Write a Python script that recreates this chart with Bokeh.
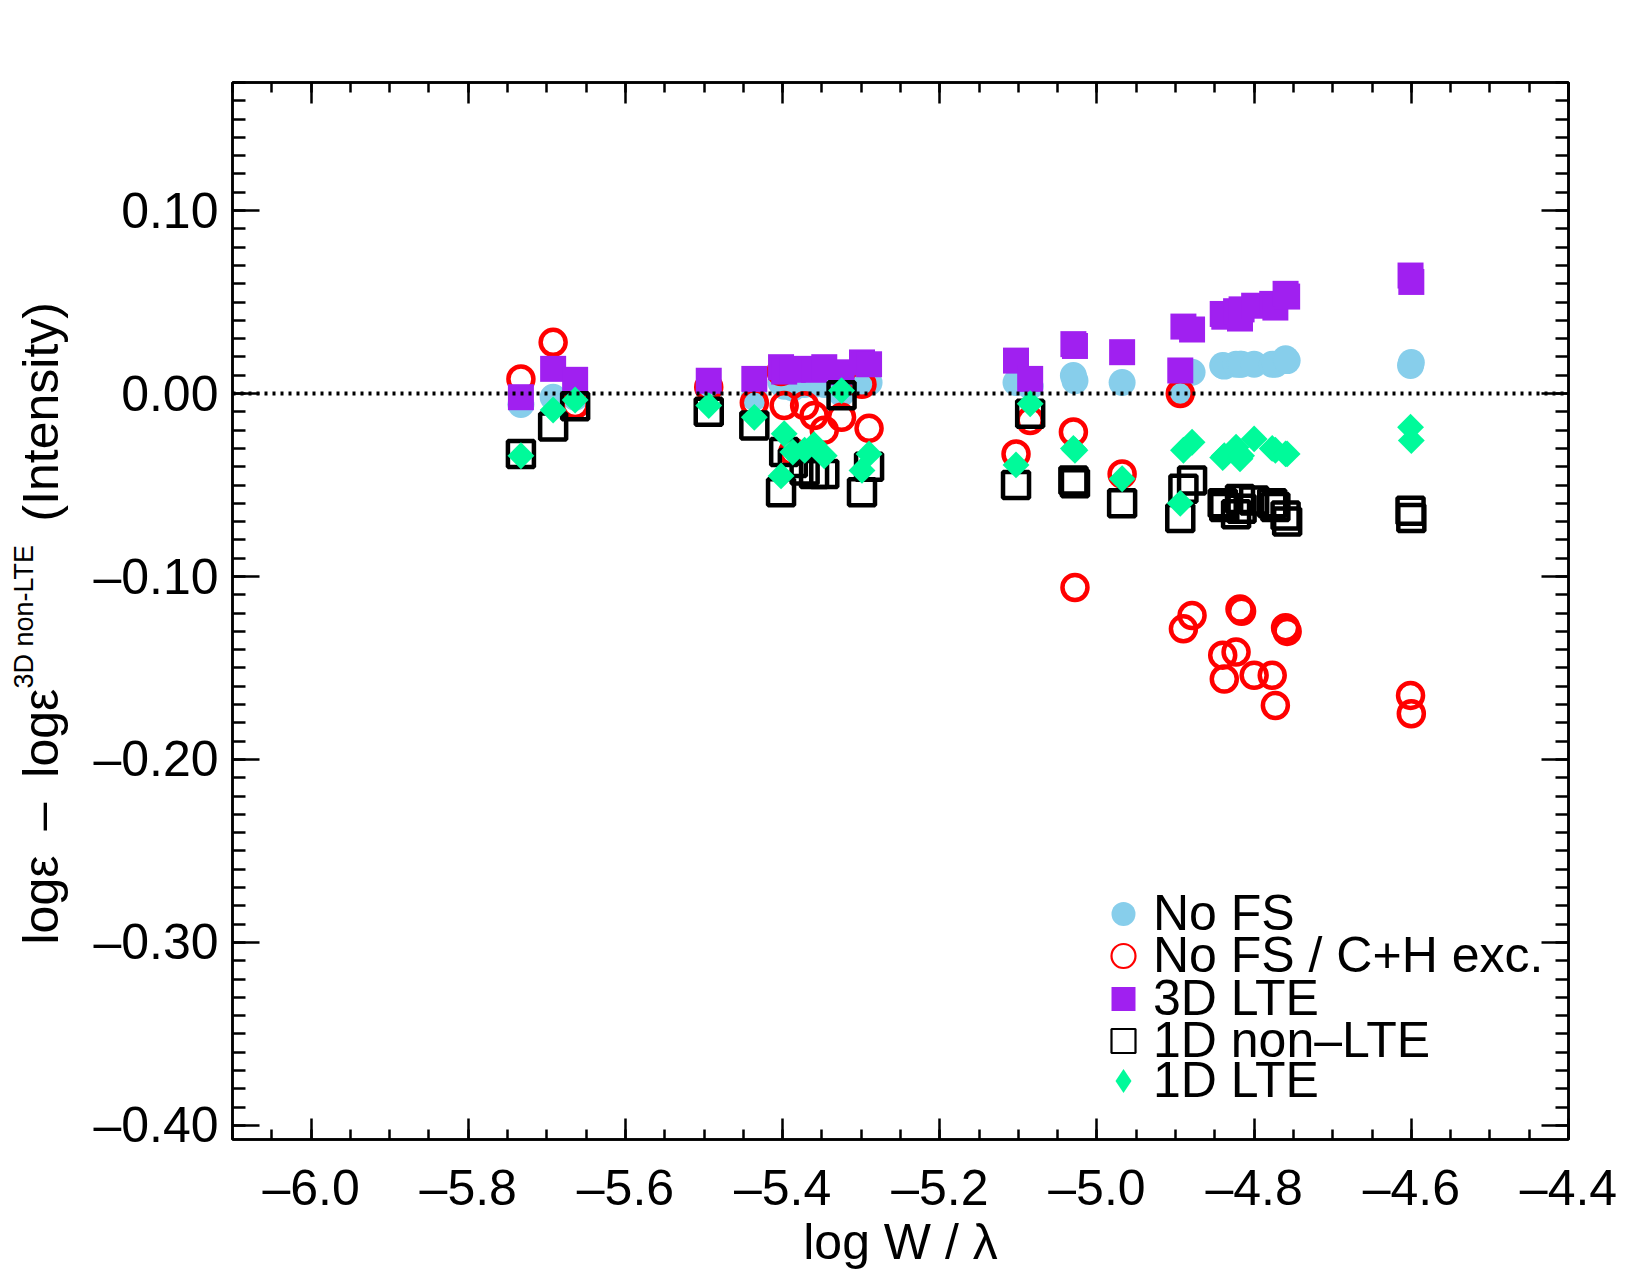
from math import pi

from bokeh.plotting import figure
from bokeh.layouts import row
from bokeh.core.properties import value
from bokeh.models import (ColumnDataSource, Span, Legend, LegendItem, LinearAxis,
                          SingleIntervalTicker, CustomJSTickFormatter, Range1d)
from bokeh.embed import file_html
from bokeh.resources import INLINE

# ---- data: abundance differences per line, relative to 3D non-LTE (intensity) ----
log_w = [
    -5.733, -5.692, -5.664,
    -5.494, -5.436, -5.402, -5.398, -5.387, -5.372, -5.360, -5.347, -5.325, -5.299, -5.290,
    -5.103, -5.085, -5.030, -5.028, -4.968,
    -4.894, -4.890, -4.879, -4.840, -4.838, -4.823, -4.818, -4.816, -4.800, -4.777, -4.773,
    -4.760, -4.758, -4.601, -4.600,
]

no_fs = [
    -0.006, -0.002, -0.002,
    0.003, -0.002, 0.006, 0.004, 0.003, 0.005, 0.005, 0.005, 0.000, 0.005, 0.006,
    0.006, 0.004, 0.0098, 0.007, 0.006,
    0.001, 0.010, 0.0116, 0.0153, 0.015, 0.016, 0.016, 0.016, 0.016, 0.016, 0.016,
    0.019, 0.018, 0.0153, 0.017,
]

no_fs_ch = [
    0.008, 0.028, -0.006,
    0.0035, -0.005, 0.012, -0.0066, -0.032, -0.0066, -0.012, -0.020, -0.013, 0.005, -0.019,
    -0.033, -0.0148, -0.021, -0.106, -0.044,
    0.000, -0.1286, -0.1213, -0.143, -0.156, -0.1413, -0.1177, -0.119, -0.154, -0.154, -0.1705,
    -0.128, -0.130, -0.165, -0.175,
]

lte_3d = [
    -0.002, 0.0135, 0.0075,
    0.007, 0.008, 0.0144, 0.012, 0.013, 0.0135, 0.013, 0.0144, 0.0116, 0.017, 0.016,
    0.018, 0.008, 0.027, 0.026, 0.0226,
    0.0126, 0.0366, 0.035, 0.0435, 0.042, 0.045, 0.041, 0.046, 0.048, 0.049, 0.047,
    0.0545, 0.053, 0.0645, 0.061,
]

nlte_1d = [
    -0.033, -0.018, -0.007,
    -0.010, -0.0175, -0.054, -0.032, -0.038, -0.042, -0.044, -0.044, -0.001, -0.054, -0.040,
    -0.050, -0.011, -0.0475, -0.049, -0.060,
    -0.068, -0.052, -0.0475, -0.060, -0.062, -0.066, -0.0576, -0.063, -0.0585, -0.060, -0.062,
    -0.0667, -0.070, -0.064, -0.068,
]

lte_1d = [
    -0.034, -0.009, -0.0035,
    -0.0066, -0.013, -0.045, -0.022, -0.032, -0.031, -0.028, -0.034, 0.0016, -0.042, -0.033,
    -0.039, -0.0056, -0.030, -0.031, -0.0466,
    -0.060, -0.031, -0.0266, -0.035, -0.034, -0.0293, -0.0357, -0.034, -0.0248, -0.030, -0.031,
    -0.033, -0.033, -0.0184, -0.0257,
]

series_labels = ["No FS", "No FS / C+H exc.", "3D LTE", "1D non\u2013LTE", "1D LTE"]

# y-axis title pieces: text, font size
ytitle_text = ["log\u03b5\u2002\u2013\u2002log\u03b5", "3D non-LTE", "(Intensity)"]
ytitle_size = ["50px", "27px", "50px"]

FONT = "Liberation Sans"
FS = "50px"
TITLE_W = 70

src = ColumnDataSource(dict(x=log_w, no_fs=no_fs, no_fs_ch=no_fs_ch,
                            lte_3d=lte_3d, nlte_1d=nlte_1d, lte_1d=lte_1d))

p = figure(frame_width=1336, frame_height=1057,
           min_border_left=232 - TITLE_W, min_border_right=82,
           min_border_top=82, min_border_bottom=136,
           x_range=Range1d(-6.1, -4.4), y_range=Range1d(-0.4077, 0.17),
           output_backend="svg", toolbar_location=None,
           background_fill_color="white", border_fill_color="white")
p.grid.visible = False
p.outline_line_color = "black"
p.outline_line_width = 2.5

# zero reference line
p.add_layout(Span(location=0.0, dimension="width", line_color="black",
                  line_width=4, line_dash="3 5"))

r_nofs = p.scatter("x", "no_fs", source=src, marker="circle", size=27,
                   fill_color="#87CEEB", line_color=None)
r_ch = p.scatter("x", "no_fs_ch", source=src, marker="circle", size=25,
                 fill_color=None, line_color="#FF0000", line_width=4.5)
r_3d = p.scatter("x", "lte_3d", source=src, marker="square", size=26,
                 fill_color="#A020F0", line_color=None)
r_nl = p.scatter("x", "nlte_1d", source=src, marker="square", size=26,
                 fill_color=None, line_color="black", line_width=4.5)
r_l = p.scatter("x", "lte_1d", source=src, marker="square", angle=pi / 4, size=19,
                fill_color="#00FA9A", line_color=None)

# legend keys: hidden copies with thinner outlines and a diamond key
k_nofs = p.scatter("x", "no_fs", source=src, marker="circle", fill_color="#87CEEB",
                   line_color=None, visible=False)
k_ch = p.scatter("x", "no_fs_ch", source=src, marker="circle", fill_color=None,
                 line_color="#FF0000", line_width=2.2, visible=False)
k_3d = p.scatter("x", "lte_3d", source=src, marker="square", fill_color="#A020F0",
                 line_color=None, visible=False)
k_nl = p.scatter("x", "nlte_1d", source=src, marker="square", fill_color=None,
                 line_color="black", line_width=2.2, visible=False)
k_l = p.scatter("x", "lte_1d", source=src, marker="diamond", fill_color="#00FA9A",
                line_color=None, visible=False)

# ---- axes ----
x_ticker = SingleIntervalTicker(interval=0.2, num_minor_ticks=4)
y_ticker = SingleIntervalTicker(interval=0.1, num_minor_ticks=10)
x_fmt = CustomJSTickFormatter(code="""
    if (Math.abs(tick) < 1e-9) return '0.0';
    return (tick < 0 ? '\u2013' : '') + Math.abs(tick).toFixed(1);""")
y_fmt = CustomJSTickFormatter(code="""
    if (Math.abs(tick) < 1e-9) return '0.00';
    return (tick < 0 ? '\u2013' : '') + Math.abs(tick).toFixed(2);""")
blank = CustomJSTickFormatter(code="return '';")


def style_axis(ax, major_len, minor_len):
    ax.axis_line_color = "black"
    ax.axis_line_width = 2.5
    ax.major_tick_line_width = 2.5
    ax.minor_tick_line_width = 2.5
    ax.major_tick_line_color = "black"
    ax.minor_tick_line_color = "black"
    ax.major_tick_in = major_len
    ax.major_tick_out = 0
    ax.minor_tick_in = minor_len
    ax.minor_tick_out = 0
    ax.major_label_text_font = FONT
    ax.major_label_text_font_size = FS
    ax.major_label_text_color = "black"


xb = p.xaxis[0]
xb.ticker = x_ticker
xb.formatter = x_fmt
style_axis(xb, 21, 10)
xb.major_label_standoff = 20
xb.axis_label = "log W / \u03bb"
xb.axis_label_text_font = FONT
xb.axis_label_text_font_size = FS
xb.axis_label_text_font_style = "normal"
xb.axis_label_text_color = "black"
xb.axis_label_standoff = -5

yl = p.yaxis[0]
yl.ticker = y_ticker
yl.formatter = y_fmt
style_axis(yl, 27, 13)
yl.major_label_standoff = 14

xt = LinearAxis(ticker=x_ticker, formatter=blank)
style_axis(xt, 21, 10)
xt.major_label_text_font_size = "1px"
xt.major_label_standoff = 0
p.add_layout(xt, "above")

yr = LinearAxis(ticker=y_ticker, formatter=blank)
style_axis(yr, 27, 13)
yr.major_label_text_font_size = "1px"
yr.major_label_standoff = 0
p.add_layout(yr, "right")

# ---- legend: one entry per box so rows can sit closer than the font height ----
legend_rows = [226, 184, 141, 99, 59]
for lbl, rend, yc in zip(series_labels, [k_nofs, k_ch, k_3d, k_nl, k_l], legend_rows):
    lg = Legend(items=[LegendItem(label=lbl, renderers=[rend])],
                location=(861, yc - 32.5),
                glyph_width=60, glyph_height=65, label_standoff=0,
                padding=0, margin=0, spacing=0,
                border_line_color=None, background_fill_alpha=0,
                label_text_font=FONT, label_text_font_size=FS, label_text_color="black")
    p.add_layout(lg, "center")

# ---- y-axis title strip; its frame lines up with the main frame,
#      so y is in pixels measured up from the bottom of the page ----
title_src = ColumnDataSource(dict(
    x=[40, 23, 40], y=[1275 - 944, 1275 - 688, 1275 - 521], text=ytitle_text, size=ytitle_size))
t = figure(width=TITLE_W, height=1275, x_range=Range1d(0, TITLE_W), y_range=Range1d(136, 1193),
           x_axis_type=None, y_axis_type=None, output_backend="svg", toolbar_location=None,
           min_border=0, outline_line_color=None, background_fill_color="white",
           border_fill_color="white")
t.grid.visible = False
t.text("x", "y", text="text", source=title_src, angle=pi / 2, text_align="left",
       text_baseline="middle", text_font=value(FONT), text_font_size="size",
       text_color="black")

layout = row(t, p, spacing=0)
open("out.html", "w").write(file_html(layout, INLINE))
